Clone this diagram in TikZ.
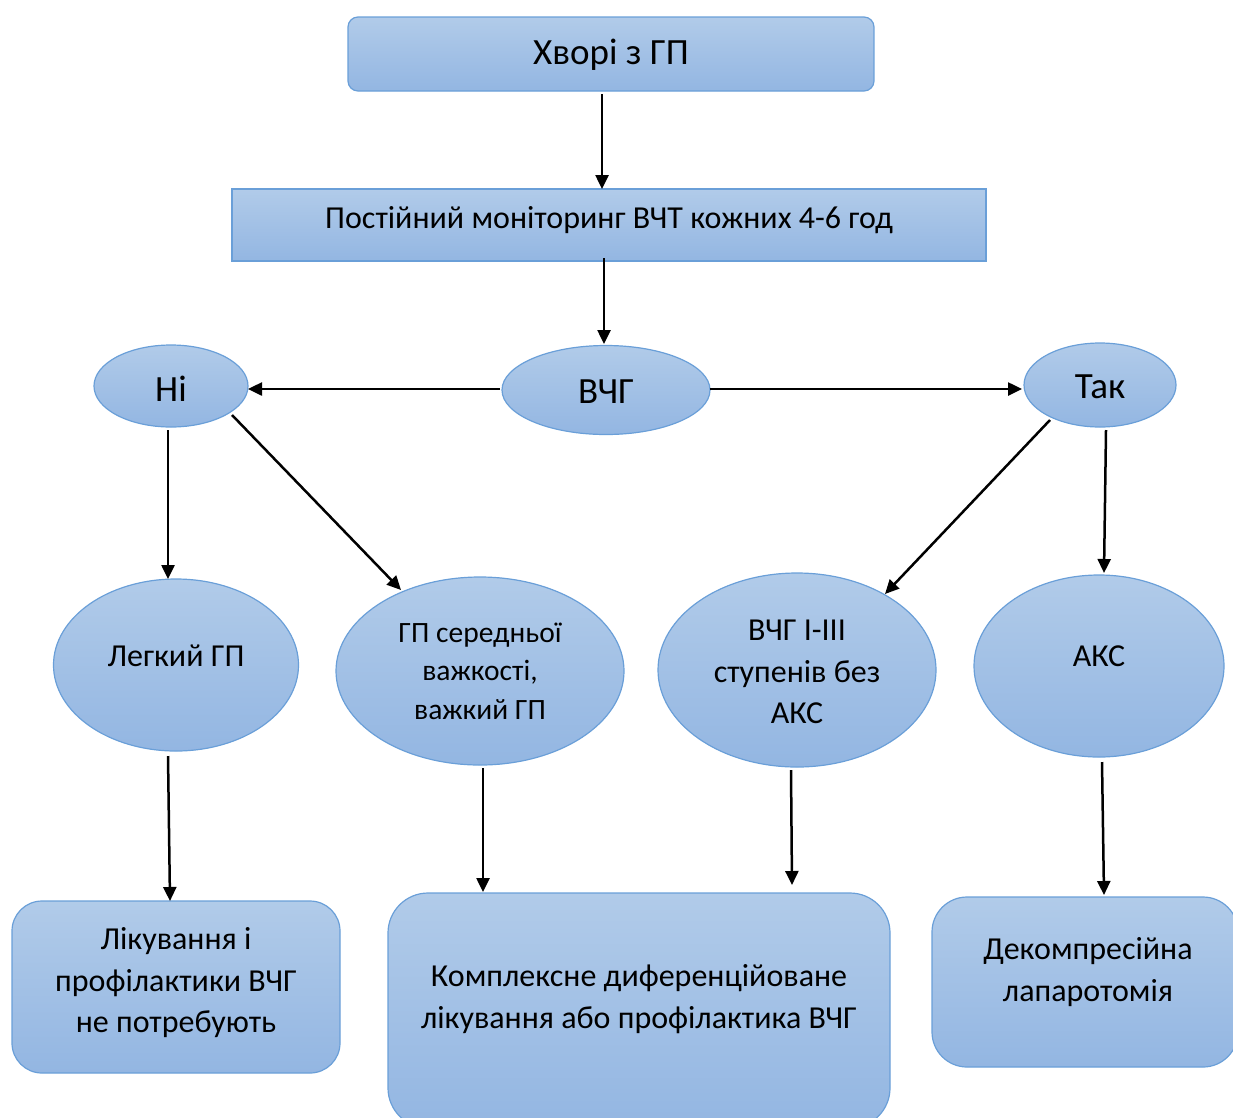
\documentclass[tikz,border=0pt]{standalone}
\usepackage{fontspec}
\setmainfont{Carlito}
\usetikzlibrary{shapes.geometric,arrows.meta,calc}
\definecolor{topc}{HTML}{B1CBE9}
\definecolor{botc}{HTML}{93B6E2}
\definecolor{edgec}{HTML}{6A9FD8}
\tikzset{
  shp/.style={draw=edgec, line width=1.2pt, top color=topc, bottom color=botc, inner sep=0pt},
  rbox/.style={shp, rectangle, rounded corners=#1},
  rbox/.default=10pt,
  ell/.style={shp, ellipse},
  txt/.style={font=\fontsize{32}{41.5}\selectfont, align=center, inner sep=0pt},
  smalltxt/.style={font=\fontsize{29.5}{38.5}\selectfont, align=center, inner sep=0pt},
  bigtxt/.style={font=\fontsize{37}{42}\selectfont, align=center, inner sep=0pt},
  arr/.style={line width=2.5pt, -{Triangle[length=14pt,width=13pt]}}
}
\begin{document}
\begin{tikzpicture}[x=1pt,y=-1pt]
\useasboundingbox (0,0) rectangle (1233,1117);
\clip (0,0) rectangle (1233,1117);
% boxes
\node[rbox=10pt, minimum width=526pt, minimum height=74pt] (top) at (611,54) {};
\node[rbox=0pt, minimum width=754pt, minimum height=72pt] (mon) at (609,225) {};
% ellipses
\node[ell, minimum width=208pt, minimum height=89pt] (vchg) at (606,390) {};
\node[ell, minimum width=154pt, minimum height=82pt] (ni) at (171,386) {};
\node[ell, minimum width=152pt, minimum height=84pt] (tak) at (1100,385) {};
\node[ell, minimum width=245pt, minimum height=172pt] (leg) at (176,665) {};
\node[ell, minimum width=288pt, minimum height=188pt] (ser) at (480,671) {};
\node[ell, minimum width=278pt, minimum height=194pt] (v13) at (797,670) {};
\node[ell, minimum width=250pt, minimum height=182pt] (aks) at (1099,666) {};
% bottom boxes
\node[rbox=30pt, minimum width=328pt, minimum height=172pt] (b1) at (176,987) {};
\node[rbox=40pt, minimum width=502pt, minimum height=235pt] (b2) at (639,1010.5) {};
\node[rbox=35pt, minimum width=306pt, minimum height=170pt] (b3) at (1085,982) {};
% texts
\node[bigtxt] (ttop) at (611,55) {Хворі з ГП};
\node[txt] (tmon) at (609,220) {Постійний моніторинг ВЧТ кожних 4-6 год};
\node[bigtxt] (tvchg) at (606,392) {ВЧГ};
\node[bigtxt] (tni) at (171,389) {Ні};
\node[bigtxt] (ttak) at (1100,387) {Так};
\node[txt] (tleg) at (176,656) {Легкий ГП};
\node[smalltxt] (tser) at (480,671) {ГП середньої\\важкості,\\важкий ГП};
\node[txt] (tv13) at (797,672) {ВЧГ І-ІІІ\\ступенів без\\АКС};
\node[txt] (taks) at (1099,656) {АКС};
\node[txt] (tb1) at (176,983) {Лікування і\\профілактики ВЧГ\\не потребують};
\node[txt] (tb2) at (639,999) {Комплексне диференційоване\\лікування або профілактика ВЧГ};
\node[txt] (tb3) at (1088,972) {Декомпресійна\\лапаротомія};
% connectors
\draw[arr] ($(top)+(-9,40)$) -- ($(mon)+(-7,-36)$);
\draw[arr] ($(mon)+(-5,33)$) -- ($(vchg)+(-2,-46)$);
\draw[arr] ($(vchg)+(-106,-1)$) -- ($(ni)+(77,3)$);
\draw[arr] ($(vchg)+(104,-1)$) -- ($(tak)+(-78,4)$);
\draw[arr] ($(ni)+(-3,44)$) -- ($(leg)+(-8,-86)$);
\draw[arr] ($(ni)+(61,29)$) -- ($(ser)+(-79,-81)$);
\draw[arr] ($(tak)+(-50,35)$) -- ($(v13)+(88,-76)$);
\draw[arr] ($(tak)+(6,45)$) -- ($(aks)+(5,-93)$);
\draw[arr] ($(leg)+(-8,91)$) -- ($(b1)+(-6,-86)$);
\draw[arr] ($(ser)+(3,97)$) -- ($(b2)+(-156,-118.5)$);
\draw[arr] ($(v13)+(-6,100)$) -- ($(b2)+(153,-125.5)$);
\draw[arr] ($(aks)+(3,96)$) -- ($(b3)+(19,-87)$);
\end{tikzpicture}
\end{document}
